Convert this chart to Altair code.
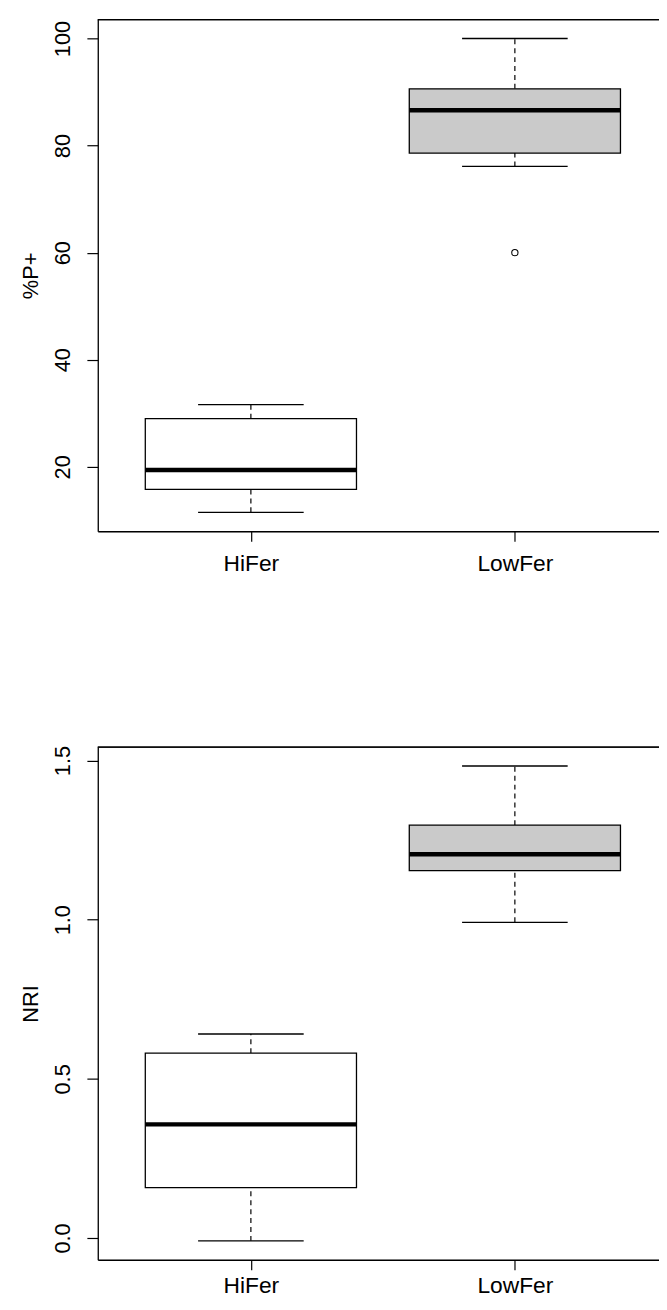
import altair as alt
import pandas as pd

groups = ["HiFer", "LowFer"]
positions = [1, 2]
fills = ["#ffffff", "#cacaca"]

# Panel 1: %P+
p_low = [11.5, 76.1]
p_q1 = [15.8, 78.6]
p_med = [19.4, 86.6]
p_q3 = [29.0, 90.6]
p_high = [31.6, 100.0]
p_out_group = ["LowFer"]
p_out_pos = [2]
p_out_val = [60.0]

# Panel 2: NRI
n_low = [-0.009, 0.992]
n_q1 = [0.158, 1.154]
n_med = [0.357, 1.206]
n_q3 = [0.581, 1.297]
n_high = [0.641, 1.483]

FONT = "Liberation Sans"
W = 567
X_DOMAIN = [0.42, 0.42 + W / 266.7]


def panel(low, q1, med, q3, high, title, ydomain, yticks, ylabel_expr, height,
          xlabel_pad, outliers=None):
    df = pd.DataFrame({
        "group": groups, "pos": positions, "fill": fills,
        "low": low, "q1": q1, "med": med, "q3": q3, "high": high,
    })
    df["bx0"] = df["pos"] - 0.4
    df["bx1"] = df["pos"] + 0.4
    df["cx0"] = df["pos"] - 0.2
    df["cx1"] = df["pos"] + 0.2

    xscale = alt.Scale(domain=X_DOMAIN, nice=False, zero=False)
    yscale = alt.Scale(domain=ydomain, nice=False, zero=False)

    base = alt.Chart(df)
    xaxis = alt.Axis(values=positions, labelExpr="datum.value == 1 ? 'HiFer' : 'LowFer'",
                     title=None, grid=False, tickSize=10, labelPadding=xlabel_pad,
                     labelFont=FONT, labelFontSize=23, labelColor="black",
                     tickColor="black", domainColor="black", domainWidth=1.3,
                     tickWidth=1.2, labelFlush=False)
    yaxis = alt.Axis(values=yticks, labelExpr=ylabel_expr, title=title, grid=False,
                     tickSize=11, labelPadding=18, labelAngle=270,
                     labelAlign="center", labelBaseline="alphabetic",
                     labelFont=FONT, labelFontSize=22, labelColor="black",
                     tickColor="black", domainColor="black", domainWidth=1.3,
                     tickWidth=1.2, labelFlush=False,
                     titleFont=FONT, titleFontSize=22, titleFontWeight="normal",
                     titleColor="black", titleAngle=270, titlePadding=9)

    whisk_up = base.mark_rule(color="black", strokeDash=[5, 4], strokeWidth=1.2).encode(
        x=alt.X("pos:Q", scale=xscale, axis=xaxis),
        y=alt.Y("q3:Q", scale=yscale, axis=yaxis),
        y2="high:Q",
    )
    whisk_dn = base.mark_rule(color="black", strokeDash=[5, 4], strokeWidth=1.2).encode(
        x="pos:Q", y="low:Q", y2="q1:Q",
    )
    cap_hi = base.mark_rule(color="black", strokeWidth=1.3).encode(
        x="cx0:Q", x2="cx1:Q", y="high:Q",
    )
    cap_lo = base.mark_rule(color="black", strokeWidth=1.3).encode(
        x="cx0:Q", x2="cx1:Q", y="low:Q",
    )
    box = base.mark_rect(stroke="black", strokeWidth=1.3).encode(
        x="bx0:Q", x2="bx1:Q", y="q1:Q", y2="q3:Q",
        fill=alt.Fill("fill:N", scale=None),
    )
    median = base.mark_rule(color="black", strokeWidth=4.5).encode(
        x="bx0:Q", x2="bx1:Q", y="med:Q",
    )
    top_line = base.mark_rule(color="black", strokeWidth=1.3).encode(
        x=alt.value(0), x2=alt.value(W), y=alt.value(0),
    )
    layers = [whisk_up, whisk_dn, cap_hi, cap_lo, box, median, top_line]
    if outliers is not None:
        odf = pd.DataFrame({"group": outliers[0], "pos": outliers[1], "val": outliers[2]})
        pts = alt.Chart(odf).mark_point(shape="circle", size=40, filled=False,
                                        color="black", strokeWidth=1.1, opacity=1).encode(
            x="pos:Q", y="val:Q",
        )
        layers.append(pts)
    return alt.layer(*layers).properties(width=W, height=height)


top = panel(p_low, p_q1, p_med, p_q3, p_high, "%P+", [7.96, 103.54],
            [20, 40, 60, 80, 100], "datum.value", 517, 12,
            outliers=(p_out_group, p_out_pos, p_out_val))
bottom = panel(n_low, n_q1, n_med, n_q3, n_high, "NRI", [-0.0684, 1.5426],
               [0.0, 0.5, 1.0, 1.5], "format(datum.value, '.1f')", 518, 5)

chart = alt.vconcat(top, bottom, spacing=169).properties(
    padding={"left": 10.7, "top": 3, "right": -2, "bottom": -4.5}
).configure_view(stroke="transparent", strokeWidth=0).configure(background="white")

chart.save("out.html", embed_options={"renderer": "svg", "actions": False})
